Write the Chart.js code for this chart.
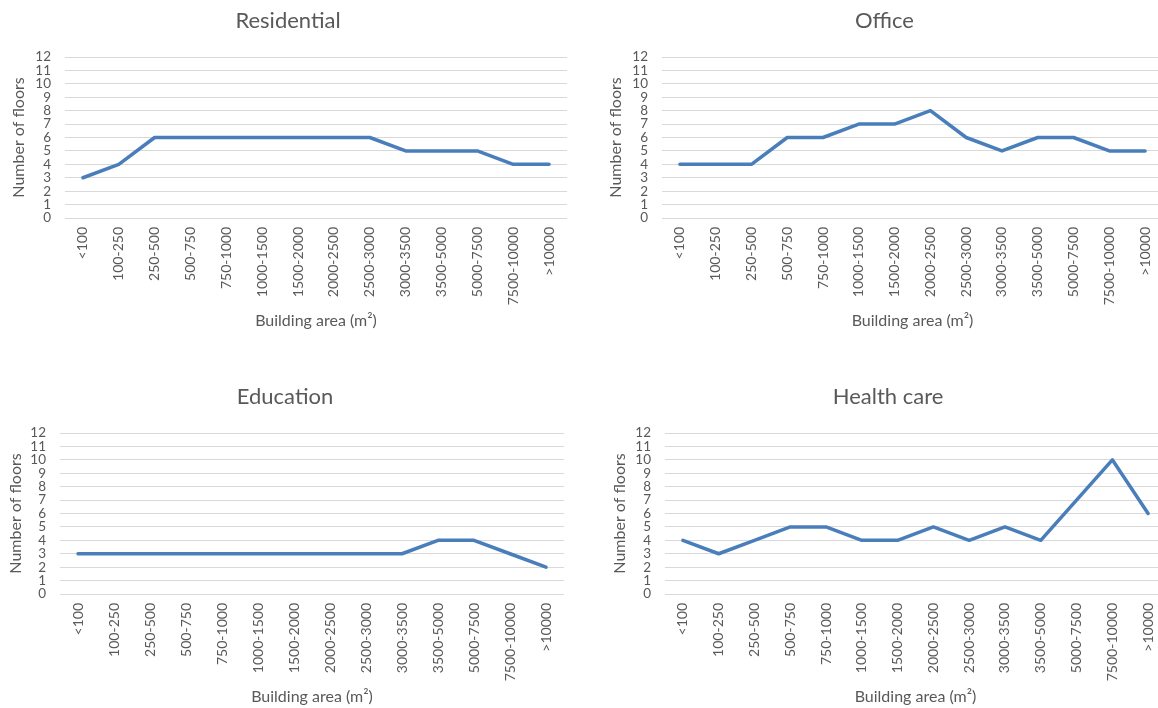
<!DOCTYPE html>
<html>
<head>
<meta charset="utf-8">
<script src="https://cdn.jsdelivr.net/npm/chart.js@4"></script>
<style>
  html, body { margin: 0; padding: 0; background: #ffffff; }
  body { width: 1158px; height: 708px; overflow: hidden; position: relative; }
  .box { position: absolute; }
</style>
</head>
<body>
<div class="box" style="left:0px;top:0px;width:580px;height:332px;"><canvas id="c1"></canvas></div>
<div class="box" style="left:580px;top:0px;width:600px;height:332px;"><canvas id="c2"></canvas></div>
<div class="box" style="left:0px;top:376px;width:580px;height:332px;"><canvas id="c3"></canvas></div>
<div class="box" style="left:580px;top:376px;width:600px;height:332px;"><canvas id="c4"></canvas></div>
<script>
// ---- data ----
const categories = ['<100', '100-250', '250-500', '500-750', '750-1000', '1000-1500', '1500-2000',
  '2000-2500', '2500-3000', '3000-3500', '3500-5000', '5000-7500', '7500-10000', '>10000'];
const residential = [3, 4, 6, 6, 6, 6, 6, 6, 6, 5, 5, 5, 4, 4];
const office      = [4, 4, 4, 6, 6, 7, 7, 8, 6, 5, 6, 6, 5, 5];
const education   = [3, 3, 3, 3, 3, 3, 3, 3, 3, 3, 4, 4, 3, 2];
const healthCare  = [4, 3, 4, 5, 5, 4, 4, 5, 4, 5, 4, 7, 10, 6];
const yTicks = [0, 1, 2, 3, 4, 5, 6, 7, 8, 9, 10, 11, 12];
const titles = ['Residential', 'Office', 'Education', 'Health care'];
const xTitle = 'Building area (m\u00B2)';
const yTitle = 'Number of floors';

// ---- styling / layout ----
const FONT = 'Lato, "Open Sans", sans-serif';
const TEXT = '#595959';
const LINE = '#4A7EBB';
const GRID = '#D9D9D9';

function makeChart(id, title, values, lay) {
  const ctx = document.getElementById(id);
  return new Chart(ctx, {
    type: 'line',
    data: {
      labels: categories,
      datasets: [{
        label: title,
        data: values,
        borderColor: LINE,
        backgroundColor: LINE,
        borderWidth: 3.5,
        pointRadius: 0,
        pointHoverRadius: 0,
        tension: 0,
        borderCapStyle: 'round',
        borderJoinStyle: 'round',
        fill: false
      }]
    },
    options: {
      responsive: true,
      maintainAspectRatio: false,
      animation: false,
      events: [],
      layout: { padding: { left: lay.padLeft, right: lay.padRight, top: 0, bottom: 0 } },
      plugins: {
        legend: { display: false },
        tooltip: { enabled: false },
        title: {
          display: true,
          text: title,
          color: TEXT,
          font: { family: FONT, size: 22, weight: 'normal', lineHeight: 1.2 },
          padding: { top: 8, bottom: 57 - 8 - 26.4 }
        }
      },
      scales: {
        x: {
          type: 'category',
          offset: true,
          grid: { display: false, drawTicks: false },
          border: { display: false },
          ticks: {
            color: TEXT,
            font: { family: FONT, size: 14 },
            maxRotation: 90,
            minRotation: 90,
            autoSkip: false,
            padding: 9
          },
          title: {
            display: true,
            text: xTitle,
            color: TEXT,
            font: { family: FONT, size: 16, lineHeight: 1.2 },
            padding: { top: 0, bottom: 2 }
          },
          afterFit: (s) => { s.height = 332 - 218; }
        },
        y: {
          min: 0,
          max: 12,
          afterBuildTicks: (s) => { s.ticks = yTicks.map(v => ({ value: v })); },
          grid: { color: GRID, lineWidth: 1, drawTicks: false },
          border: { display: false },
          ticks: {
            color: TEXT,
            font: { family: FONT, size: 13.5 },
            padding: 14,
            stepSize: 1,
            autoSkip: false
          },
          title: {
            display: true,
            text: yTitle,
            color: TEXT,
            font: { family: FONT, size: 16, lineHeight: 1.2 },
            padding: { top: 0, bottom: 0 }
          },
          afterFit: (s) => { s.width = lay.chartLeft - lay.padLeft; }
        }
      }
    }
  });
}

makeChart('c1', titles[0], residential, { padLeft: 9, chartLeft: 65, padRight: 13 });
makeChart('c2', titles[1], office,      { padLeft: 26, chartLeft: 82, padRight: 17 });
makeChart('c3', titles[2], education,   { padLeft: 6, chartLeft: 60, padRight: 16 });
makeChart('c4', titles[3], healthCare,  { padLeft: 30, chartLeft: 85, padRight: 14 });
</script>
</body>
</html>
